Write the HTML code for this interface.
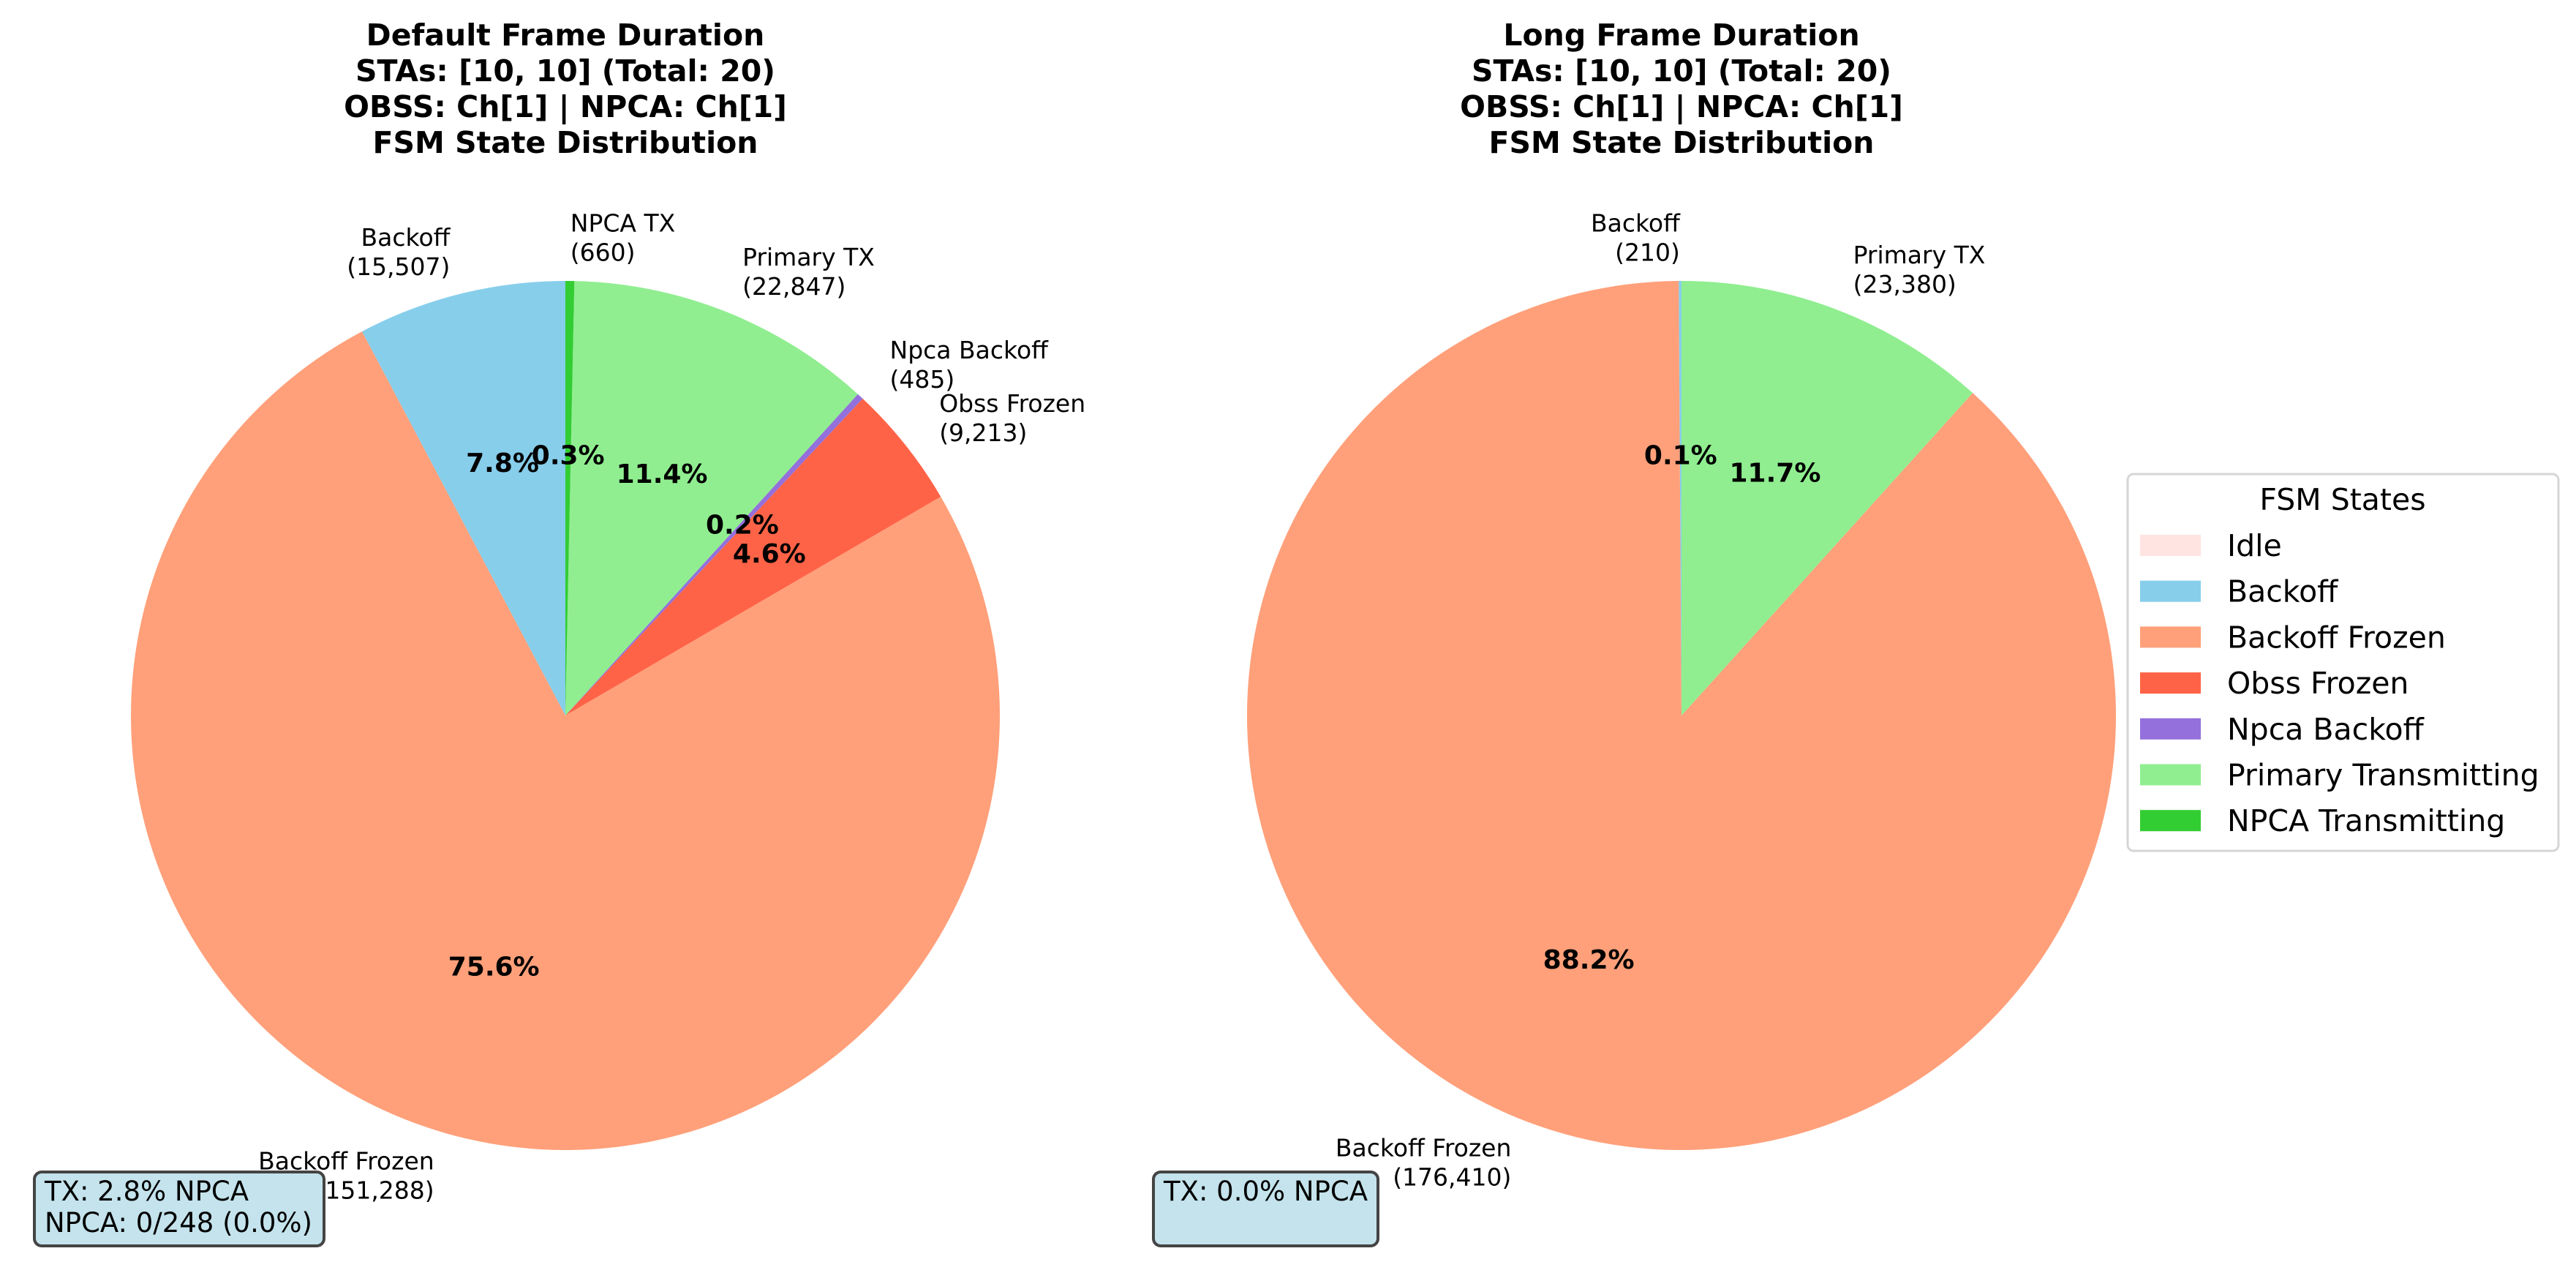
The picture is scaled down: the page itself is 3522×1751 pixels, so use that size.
<!DOCTYPE html>
<html><head><meta charset="utf-8"><style>
html,body{margin:0;padding:0;background:#fff;}
svg{display:block;font-family:"DejaVu Sans","Liberation Sans",sans-serif;}
</style></head><body>
<svg id="chart" width="3522" height="1751" viewBox="0 0 3522 1751">
<rect width="3522" height="1751" fill="#fff"/>
</svg>
<script>
const states = ["Idle","Backoff","Backoff Frozen","Obss Frozen","Npca Backoff","Primary Transmitting","NPCA Transmitting"];
const shortLabels = ["Idle","Backoff","Backoff Frozen","Obss Frozen","Npca Backoff","Primary TX","NPCA TX"];
const colors = ["#ffe4e1","#87ceeb","#ffa07a","#ff6347","#9370db","#90ee90","#32cd32"];
const defaultValues = [0,15507,151288,9213,485,22847,660];
const longValues = [0,210,176410,0,0,23380,0];
const defaultTitle = ["Default Frame Duration","STAs: [10, 10] (Total: 20)","OBSS: Ch[1] | NPCA: Ch[1]","FSM State Distribution"];
const longTitle = ["Long Frame Duration","STAs: [10, 10] (Total: 20)","OBSS: Ch[1] | NPCA: Ch[1]","FSM State Distribution"];
const defaultBox = ["TX: 2.8% NPCA","NPCA: 0/248 (0.0%)"];
const longBox = ["TX: 0.0% NPCA"];

const svg = document.getElementById('chart');
const NS = "http://www.w3.org/2000/svg";
function mk(tag, attrs, parent){
  const e = document.createElementNS(NS, tag);
  for (const k in attrs) e.setAttribute(k, attrs[k]);
  (parent||svg).appendChild(e);
  return e;
}
function fmt(n){ return n.toLocaleString('en-US'); }

function drawPie(cx, cy, r, values, title, boxLines, boxX, boxW, key){
  const g = mk('g', {});
  
  
  title.forEach((t, i) => {
    const tt = mk('text', {x: cx, y: 62 + i*49, 'text-anchor':'middle', 'font-size':41, 'font-weight':'bold', fill:'#000'}, g);
    tt.textContent = t;
    
    
  });
  const total = values.reduce((a,b)=>a+b,0);
  const wedges = mk('g', {}, g);
  const texts = mk('g', {}, g);
  let ang = 90;
  values.forEach((v, i) => {
    if (v <= 0) return;
    const sweep = v/total*360;
    const a0 = ang*Math.PI/180, a1 = (ang+sweep)*Math.PI/180;
    const x0 = cx + r*Math.cos(a0), y0 = cy - r*Math.sin(a0);
    const x1 = cx + r*Math.cos(a1), y1 = cy - r*Math.sin(a1);
    const large = sweep > 180 ? 1 : 0;
    const p = mk('path', {d:`M${cx},${cy} L${x0},${y0} A${r},${r} 0 ${large} 0 ${x1},${y1} Z`, fill: colors[i]}, wedges);
    
    
    const mid = (ang + sweep/2)*Math.PI/180;
    const c = Math.cos(mid), s = Math.sin(mid);
    const pt = mk('text', {x: cx + 0.6*r*c, y: cy - 0.6*r*s + 13, 'text-anchor':'middle', 'font-size':36, 'font-weight':'bold', fill:'#000'}, texts);
    pt.textContent = (v/total*100).toFixed(1) + '%';
    
    
    const lx = cx + 1.1*r*c, ly = cy - 1.1*r*s;
    const anchor = c >= 0 ? 'start' : 'end';
    const lt = mk('text', {x: lx, y: ly - 8, 'text-anchor':anchor, 'font-size':33, fill:'#000'}, texts);
    lt.textContent = shortLabels[i];
    
    
    const lv = mk('text', {x: lx, y: ly + 32, 'text-anchor':anchor, 'font-size':33, fill:'#000'}, texts);
    lv.textContent = '(' + fmt(v) + ')';
    
    
    ang += sweep;
  });
  const b = mk('rect', {x: boxX, y: 1602, width: boxW, height: 101, rx: 10, fill:'#c4e3ec', stroke:'#444', 'stroke-width':4}, g);
  
  
  boxLines.forEach((t, i) => {
    const bt = mk('text', {x: boxX + 14, y: 1641 + i*43, 'font-size':37, fill:'#000'}, g);
    bt.textContent = t;
    
    
  });
}

drawPie(773, 978, 594, defaultValues, defaultTitle, defaultBox, 47, 396, 'default');
drawPie(2299, 978, 594, longValues, longTitle, longBox, 1577, 307, 'long');

const lg = mk('g', {});


const lb = mk('rect', {x: 2909, y: 648, width: 589, height: 515, rx: 8, fill:'#fff', stroke:'#d6d6d6', 'stroke-width':3}, lg);


const ltitle = mk('text', {x: 3203, y: 697, 'text-anchor':'middle', 'font-size':41, fill:'#000'}, lg);
ltitle.textContent = 'FSM States';


states.forEach((s, i) => {
  const yc = 745 + i*62.7;
  const pr = mk('rect', {x: 2926, y: yc - 14, width: 83, height: 29, fill: colors[i]}, lg);
  
  
  const tx = mk('text', {x: 3045, y: yc + 15, 'font-size':41, fill:'#000'}, lg);
  tx.textContent = s;
  
  
});
</script>
</body></html>
